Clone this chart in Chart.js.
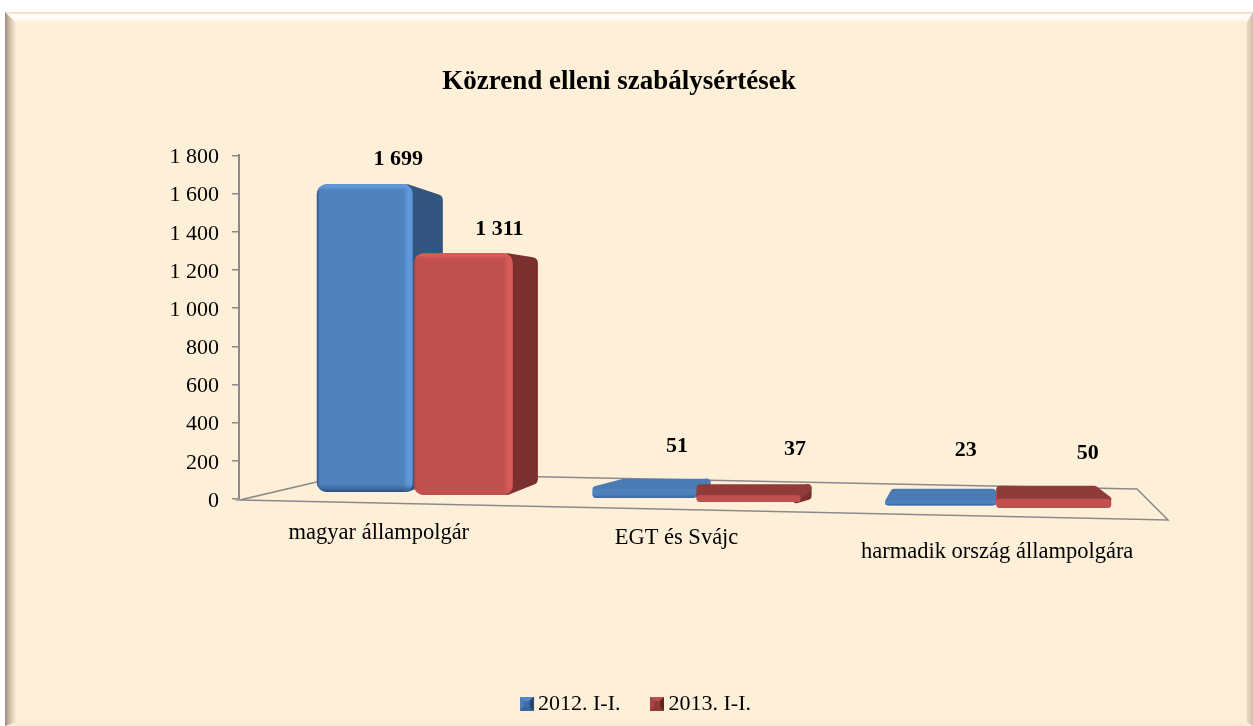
<!DOCTYPE html>
<html><head><meta charset="utf-8">
<script src="https://cdn.jsdelivr.net/npm/chart.js@4"></script>
<style>html,body{margin:0;padding:0;background:#fff}canvas{display:block}</style>
</head><body><canvas id="c" width="1253" height="726"></canvas>
<script>
const categories = ['magyar állampolgár', 'EGT és Svájc', 'harmadik ország állampolgára'];
const seriesNames = ['2012. I-I.', '2013. I-I.'];
const values2012 = [1699, 51, 23];
const values2013 = [1311, 37, 50];
const axisTicks = [0, 200, 400, 600, 800, 1000, 1200, 1400, 1600, 1800];
const chartTitle = 'Közrend elleni szabálysértések';

const SERIF = "'Liberation Serif', 'Times New Roman', serif";
const GRID = '#8a8a8a';
const LEGEND_PAD = 36;
// perspective adjustments relative to the bar the library laid out
const perspective = [
  [ {l:20,r:19,dy:-7,bl:0,br:30,rise:-10,sideBase:12,lx:33,ly:-25},
    {l:-14,r:-7,dy:-1,bl:27,br:14,rise:10,sideBase:4,lx:36,ly:-42},
    {l:-31,r:-17,dy:6,bl:5,br:0,rise:12,sideBase:2,lx:32,ly:-51} ],
  [ {l:20,r:22,dy:-4,bl:0,br:25,rise:-4,sideBase:10,lx:37,ly:-24},
    {l:-7,r:0,dy:3,bl:0,br:11,rise:11,sideBase:2,lx:50,ly:-46},
    {l:-17,r:1,dy:9,bl:0,br:-13,rise:13,sideBase:0,lx:43,ly:-45} ]
];
const categoryLabelShift = [[-15, 34], [-27, 39], [-16, 53]];
const palette = [
  {front:'#4f81bd',light:'#6098da',dark:'#2b4f7c',top:'#4a7bb5',side:'#33557f',soft:'#3a659c'},
  {front:'#c0504d',light:'#d75c58',dark:'#a84441',top:'#8f3b39',side:'#7b3030',soft:'#c0504d'}
];

function marker(c1,c2,c3,c4,c5){
  const m=document.createElement('canvas');m.width=m.height=14;const x=m.getContext('2d');
  const tri=(a,b,col)=>{x.fillStyle=col;x.beginPath();x.moveTo(a[0],a[1]);x.lineTo(b[0],b[1]);x.lineTo(7,7);x.closePath();x.fill();};
  x.fillStyle=c5;x.fillRect(0,0,14,14);
  tri([0,0],[14,0],c1);tri([14,0],[14,14],c2);tri([14,14],[0,14],c3);tri([0,14],[0,0],c4);
  x.fillStyle=c5;x.fillRect(4,4,6,6);
  return m;
}
const markers=[marker('#5487c4','#26446c','#3c659c','#4d7fbb','#3f6ea8'),marker('#b84f4c','#632524','#8d3936','#a8443f','#8e3b39')];

const frame = {
  id:'frame',
  beforeDraw(ch){
    const c=ch.ctx,W=ch.width,H=ch.height;
    const L=5,T=12;
    c.save();
    c.fillStyle='#fff';c.fillRect(0,0,W,H);
    c.fillStyle='#feefd9';c.fillRect(L,T,W-L,H-T);
    let g=c.createLinearGradient(0,T,0,T+12);
    g.addColorStop(0,'#f3d8c4');g.addColorStop(.12,'#fbe6d8');g.addColorStop(.22,'#ffffff');g.addColorStop(.55,'#fffaf2');g.addColorStop(1,'#feefd9');
    c.fillStyle=g;c.beginPath();c.moveTo(L,T);c.lineTo(W,T);c.lineTo(W-6,T+12);c.lineTo(L+12,T+12);c.closePath();c.fill();
    g=c.createLinearGradient(L,0,L+12,0);
    g.addColorStop(0,'#9c8a7c');g.addColorStop(.3,'#c7b3a0');g.addColorStop(.7,'#ecdcc6');g.addColorStop(1,'#feefd9');
    c.fillStyle=g;c.beginPath();c.moveTo(L,T);c.lineTo(L+12,T+12);c.lineTo(L+12,H-4);c.lineTo(L,H);c.closePath();c.fill();
    g=c.createLinearGradient(W-7,0,W,0);
    g.addColorStop(0,'#feefd9');g.addColorStop(.2,'#ebd8c2');g.addColorStop(1,'#d4bca6');
    c.fillStyle=g;c.beginPath();c.moveTo(W,T);c.lineTo(W-7,T+12);c.lineTo(W-7,H-4);c.lineTo(W,H);c.closePath();c.fill();
    g=c.createLinearGradient(0,H-4,0,H);
    g.addColorStop(0,'#feefd9');g.addColorStop(1,'#f9e6d2');
    c.fillStyle=g;c.fillRect(L+10,H-4,W-L-17,4);
    c.restore();
  }
};

const floor = {
  id:'floor',
  afterLayout(ch){
    const t=ch.titleBlock, l=ch.legend;
    t.left+=35;t.right+=35;
    // legend sits on its own row: first marker at 519, row centre at 703
    const dx=508-(l.left+(l.right-l.left-l.lineWidths[0])/2);
    l.left+=dx;l.right+=dx;
    const dy=704-(l.top+LEGEND_PAD+11);
    l.top+=dy;l.bottom+=dy;
  },
  beforeDatasetsDraw(ch){
    const c=ch.ctx,a=ch.chartArea,x0=a.left+1,y0=a.bottom+1;
    c.save();c.strokeStyle=GRID;c.lineWidth=1.5;
    c.beginPath();
    c.moveTo(x0,y0);c.lineTo(x0+928,y0+20);
    c.lineTo(x0+897,y0-11);c.lineTo(x0+115,y0-27);c.closePath();
    c.stroke();c.restore();
  }
};

function poly(c,pts,fill,lw){
  c.fillStyle=fill;c.strokeStyle=fill;c.lineWidth=lw;c.lineJoin='round';
  c.beginPath();pts.forEach((p,i)=>i?c.lineTo(p[0],p[1]):c.moveTo(p[0],p[1]));c.closePath();
  c.stroke();c.fill();
}
const bars3d = {
  id:'bars3d',
  afterDatasetsDraw(ch){
    const c=ch.ctx,bottom=ch.chartArea.bottom;
    c.save();
    ch.data.datasets.forEach((ds,si)=>{
      ch.getDatasetMeta(si).data.forEach((el,i)=>{
        const p=perspective[si][i],col=palette[si];
        const half=el.width/2,x0=el.x-half+p.l,x1=el.x+half+p.r;
        const top=el.y+p.dy,bot=bottom+p.dy,h=bot-top,big=h>30;
        const lw=big?12:8,ins=lw/2;
        // depth faces
        if(p.br>0){
          poly(c,[[x1-ins,top+ins],[x1+p.br-ins,top-p.rise+ins],[x1+p.br-ins,Math.max(top-p.rise+ins,bot-p.sideBase-ins)],[x1-ins,Math.max(top+ins,bot-ins)]],col.side,lw);
        }
        if(p.rise>0){
          poly(c,[[x0+ins,top+1],[x0+p.bl+ins,top-p.rise+ins],[x1+p.br-ins,top-p.rise+ins],[x1-ins,top+1]],col.top,lw);
        }
        // front face
        const r=Math.min(big?10:4,h/2);
        c.beginPath();c.roundRect(x0,top,x1-x0,h,r);c.fillStyle=col.front;c.fill();
        c.save();c.clip();
        let g;
        if(big){
          g=c.createLinearGradient(x0,0,x1,0);
          g.addColorStop(0,col.dark);g.addColorStop(.03,col.front);g.addColorStop(.9,col.front);
          g.addColorStop(.95,col.light);g.addColorStop(.985,col.light);g.addColorStop(1,col.front);
          c.fillStyle=g;c.fillRect(x0,top,x1-x0,h);
          g=c.createLinearGradient(0,top,0,top+6);
          g.addColorStop(0,col.light);g.addColorStop(.4,col.light);g.addColorStop(1,col.light+'00');
          c.fillStyle=g;c.fillRect(x0,top,x1-x0,6);
          g=c.createLinearGradient(0,bot-8,0,bot);
          g.addColorStop(0,col.soft+'00');g.addColorStop(1,col.soft==='#c0504d'?col.soft:col.dark);
          c.fillStyle=g;c.fillRect(x0,bot-8,x1-x0,8);
        }else{
          g=c.createLinearGradient(0,top,0,bot);
          g.addColorStop(0,col.front);g.addColorStop(.6,col.front);g.addColorStop(1,si?col.front:col.soft);
          c.fillStyle=g;c.fillRect(x0,top,x1-x0,h);
        }
        c.restore();
      });
    });
    // value labels
    c.fillStyle='#000';c.textAlign='center';c.textBaseline='middle';
    c.font="bold 22px "+SERIF;
    ch.data.datasets.forEach((ds,si)=>{
      ch.getDatasetMeta(si).data.forEach((el,i)=>{
        const p=perspective[si][i],v=ds.data[i];
        const txt=v>=1000?String(v).replace(/(\d)(?=\d{3}$)/,'$1 '):String(v);
        c.fillText(txt,el.x+p.l+p.lx,el.y+p.dy+p.ly);
      });
    });
    // category labels
    c.font="22.5px "+SERIF;
    const xs=ch.scales.x;
    categories.forEach((t,i)=>{
      c.fillText(t,xs.getPixelForTick(i)+categoryLabelShift[i][0],bottom+categoryLabelShift[i][1]);
    });
    c.restore();
  }
};

new Chart(document.getElementById('c'),{
  type:'bar',
  data:{labels:categories,datasets:[
    {label:seriesNames[0],data:values2012,yAxisID:'yFront',backgroundColor:'rgba(0,0,0,0)',pointStyle:markers[0],categoryPercentage:.627,barPercentage:1},
    {label:seriesNames[1],data:values2013,yAxisID:'yRear',backgroundColor:'rgba(0,0,0,0)',pointStyle:markers[1],categoryPercentage:.627,barPercentage:1}
  ]},
  plugins:[frame,floor,bars3d],
  options:{
    responsive:false,animation:false,
    layout:{padding:{left:0,right:85,top:0,bottom:2}},
    plugins:{
      tooltip:{enabled:false},
      title:{display:true,text:chartTitle,color:'#000',font:{family:SERIF,size:27,weight:'bold'},padding:{top:66,bottom:57}},
      legend:{position:'bottom',labels:{usePointStyle:true,pointStyleWidth:1,boxHeight:14,color:'#000',font:{family:SERIF,size:22},padding:LEGEND_PAD}}
    },
    scales:{
      x:{grid:{display:false},border:{display:false},ticks:{display:false},afterFit(s){s.height=157;}},
      y:{position:'left',min:0,max:1800,
        afterBuildTicks(s){s.ticks=axisTicks.map(v=>({value:v}));},
        afterFit(s){s.width=239;},
        grid:{drawOnChartArea:false,drawTicks:true,tickLength:7,color:GRID,lineWidth:1.5},
        border:{color:GRID,width:2},
        ticks:{color:'#000',font:{family:SERIF,size:22},padding:13,labelOffset:2,
          callback(v){return v>=1000?String(v).replace(/(\d)(?=\d{3}$)/,'$1 '):String(v);}}
      },
      yFront:{display:false,min:0,max:1897},
      yRear:{display:false,min:0,max:1863}
    }
  }
});
</script></body></html>
